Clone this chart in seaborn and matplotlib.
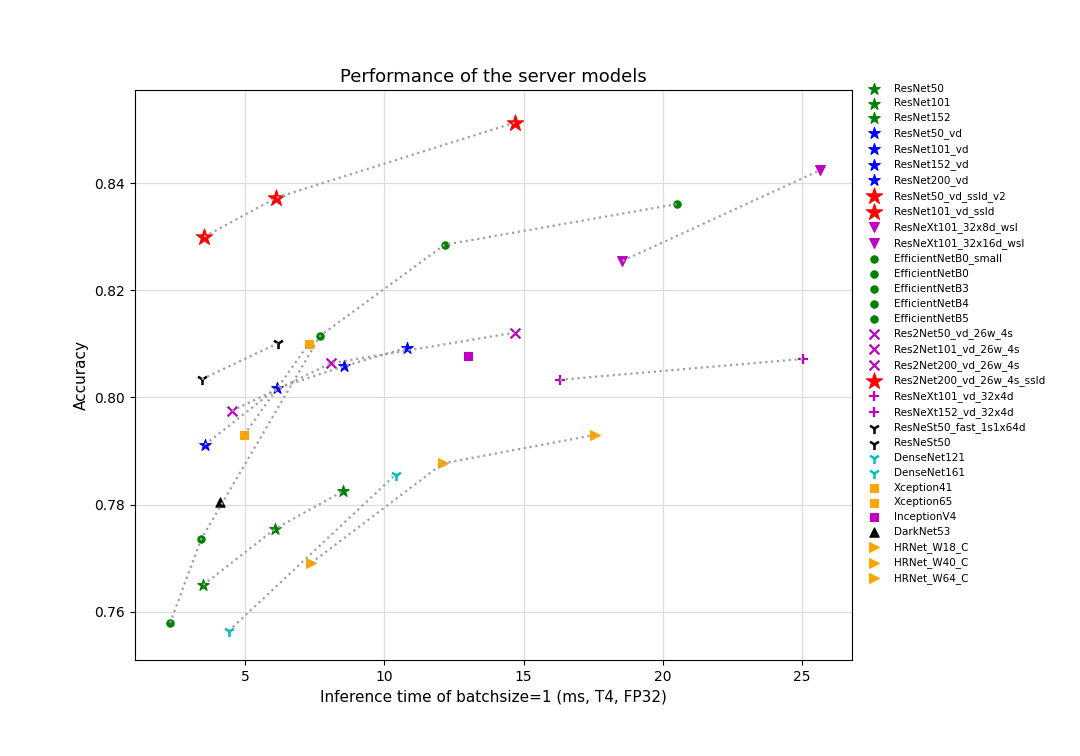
import matplotlib
matplotlib.use("Agg")
import matplotlib.pyplot as plt
import seaborn as sns
import pandas as pd

# ---- data (inference ms on T4 FP32, top-1 accuracy) ----
resnet_names = ["ResNet50", "ResNet101", "ResNet152"]
resnet_time = [3.49, 6.08, 8.51]
resnet_acc = [0.7650, 0.7755, 0.7825]

resnet_vd_names = ["ResNet50_vd", "ResNet101_vd", "ResNet152_vd", "ResNet200_vd"]
resnet_vd_time = [3.55, 6.13, 8.53, 10.81]
resnet_vd_acc = [0.7912, 0.8017, 0.8058, 0.8093]

ssld_names = ["ResNet50_vd_ssld_v2", "ResNet101_vd_ssld"]
ssld_time = [3.53, 6.12]
ssld_acc = [0.8300, 0.8373]

wsl_names = ["ResNeXt101_32x8d_wsl", "ResNeXt101_32x16d_wsl"]
wsl_time = [18.55, 25.64]
wsl_acc = [0.8255, 0.8424]

effnet_names = ["EfficientNetB0_small", "EfficientNetB0", "EfficientNetB3",
                "EfficientNetB4", "EfficientNetB5"]
effnet_time = [2.30, 3.42, 7.69, 12.16, 20.50]
effnet_acc = [0.7579, 0.7736, 0.8115, 0.8285, 0.8361]

res2net_names = ["Res2Net50_vd_26w_4s", "Res2Net101_vd_26w_4s", "Res2Net200_vd_26w_4s"]
res2net_time = [4.52, 8.09, 14.68]
res2net_acc = [0.7975, 0.8064, 0.8121]

res2net_ssld_names = ["Res2Net200_vd_26w_4s_ssld"]
res2net_ssld_time = [14.68]
res2net_ssld_acc = [0.8513]

resnext_vd_names = ["ResNeXt101_vd_32x4d", "ResNeXt152_vd_32x4d"]
resnext_vd_time = [16.30, 25.05]
resnext_vd_acc = [0.8033, 0.8072]

resnest_names = ["ResNeSt50_fast_1s1x64d", "ResNeSt50"]
resnest_time = [3.44, 6.16]
resnest_acc = [0.8034, 0.8101]

densenet_names = ["DenseNet121", "DenseNet161"]
densenet_time = [4.40, 10.40]
densenet_acc = [0.7564, 0.7856]

xception_names = ["Xception41", "Xception65"]
xception_time = [4.96, 7.28]
xception_acc = [0.7930, 0.8100]

inception_names = ["InceptionV4"]
inception_time = [13.00]
inception_acc = [0.8077]

darknet_names = ["DarkNet53"]
darknet_time = [4.10]
darknet_acc = [0.7804]

hrnet_names = ["HRNet_W18_C", "HRNet_W40_C", "HRNet_W64_C"]
hrnet_time = [7.37, 12.10, 17.55]
hrnet_acc = [0.7691, 0.7877, 0.7930]

# (family, names, time, acc, line group) in legend order
families = [
    ("resnet", resnet_names, resnet_time, resnet_acc, "resnet"),
    ("resnet_vd", resnet_vd_names, resnet_vd_time, resnet_vd_acc, "resnet_vd"),
    ("ssld", ssld_names, ssld_time, ssld_acc, "ssld"),
    ("wsl", wsl_names, wsl_time, wsl_acc, "wsl"),
    ("effnet", effnet_names, effnet_time, effnet_acc, "effnet"),
    ("res2net", res2net_names, res2net_time, res2net_acc, "res2net"),
    ("ssld", res2net_ssld_names, res2net_ssld_time, res2net_ssld_acc, "ssld"),
    ("resnext_vd", resnext_vd_names, resnext_vd_time, resnext_vd_acc, "resnext_vd"),
    ("resnest", resnest_names, resnest_time, resnest_acc, "resnest"),
    ("densenet", densenet_names, densenet_time, densenet_acc, "densenet"),
    ("xception", xception_names, xception_time, xception_acc, "xception"),
    ("inception", inception_names, inception_time, inception_acc, "inception"),
    ("darknet", darknet_names, darknet_time, darknet_acc, "darknet"),
    ("hrnet", hrnet_names, hrnet_time, hrnet_acc, "hrnet"),
]

# marker, colour, size (pt^2), edge width
styles = {
    "resnet": ("*", "green", 75, 0.8),
    "resnet_vd": ("*", "blue", 75, 0.8),
    "ssld": ("*", "red", 150, 0.8),
    "wsl": ("v", "m", 50, 0.8),
    "effnet": ("o", "green", 28, 0.8),
    "res2net": ("x", "m", 50, 1.6),
    "resnext_vd": ("+", "m", 55, 1.6),
    "resnest": ("1", "black", 65, 1.8),
    "densenet": ("1", "c", 65, 1.8),
    "xception": ("s", "orange", 40, 0.8),
    "inception": ("s", "m", 40, 0.8),
    "darknet": ("^", "black", 45, 0.8),
    "hrnet": (">", "orange", 50, 0.8),
}

rows = []
for fam, names, times, accs, grp in families:
    for n, t, a in zip(names, times, accs):
        rows.append({"model": n, "time": t, "acc": a, "family": fam, "line": grp})
df = pd.DataFrame(rows)

sns.set_style("ticks", {"axes.grid": True, "grid.color": "#dddddd",
                        "axes.edgecolor": "black", "text.color": "black",
                        "axes.labelcolor": "black", "xtick.color": "black",
                        "ytick.color": "black"})
plt.rcParams["font.family"] = ["DejaVu Sans"]

fig = plt.figure(figsize=(10.8, 7.56), dpi=100)
ax = fig.add_axes([0.125, 0.127, 0.664, 0.754])

for _, r in df.iterrows():
    m, c, s, lw = styles[r["family"]]
    sns.scatterplot(x=[r["time"]], y=[r["acc"]], marker=m, color=c, s=s,
                    edgecolor=c, linewidth=lw, label=r["model"], ax=ax, zorder=2)

# dotted connectors drawn over the markers
for grp, sub in df.groupby("line", sort=False):
    if len(sub) < 2:
        continue
    sub = sub.sort_values("time")
    ax.plot(sub["time"], sub["acc"], linestyle=":", color="#a0a0a0",
            linewidth=1.6, zorder=3)

ax.set_xlim(1.04, 26.8)
ax.set_ylim(0.7510, 0.8574)
ax.set_xticks([5, 10, 15, 20, 25])
ax.set_yticks([0.76, 0.78, 0.80, 0.82, 0.84])
ax.tick_params(length=3.5, width=0.8, labelsize=10)
for sp in ax.spines.values():
    sp.set_linewidth(0.8)
ax.grid(True, color="#dddddd", linewidth=0.9)

ax.set_title("Performance of the server models", fontsize=13)
ax.set_xlabel("Inference time of batchsize=1 (ms, T4, FP32)", fontsize=11)
ax.set_ylabel("Accuracy", fontsize=11)

ax.legend(loc="upper left", bbox_to_anchor=(0.7957, 0.895),
          bbox_transform=fig.transFigure, frameon=False, fontsize=7.5,
          labelspacing=0.46, handlelength=2.0, handletextpad=0.9,
          borderaxespad=0, borderpad=0.4)

fig.savefig("out.png", dpi=100)
